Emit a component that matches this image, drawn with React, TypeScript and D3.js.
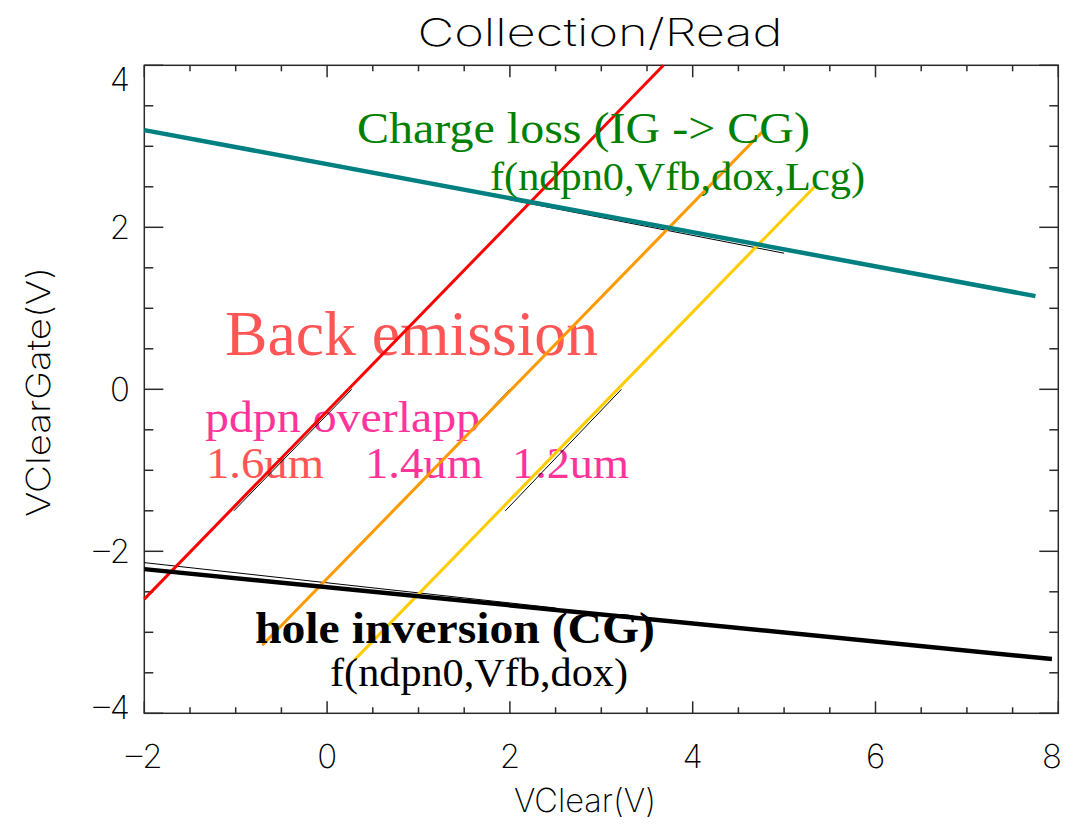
import React from "react";
import * as d3 from "d3";

// ---- data ----
const xTicks = [-2, 0, 2, 4, 6, 8];
const yTicks = [-4, -2, 0, 2, 4];

// straight lines: [x, y] end points
const chargeLoss: [number, number][] = [[-2, 3.2], [7.75, 1.15]];
const chargeLossFit: [number, number][] = [[2.0, 2.34], [5.0, 1.68]];
const holeInv: [number, number][] = [[-2, -2.22], [7.93, -3.33]];
const holeInvFit: [number, number][] = [[-2, -2.14], [2.5, -2.70]];
const ov16: [number, number][] = [[-2, -2.59], [3.68, 4.0]];
const ov14: [number, number][] = [[-0.71, -3.16], [4.78, 3.2]];
const ov12: [number, number][] = [[0.3, -3.34], [5.35, 2.52]];
const ov16Fit: [number, number][] = [[0.27, 0], [-1.02, -1.5]];
const ov14Fit: [number, number][] = [[2.0, 0], [0.72, -1.51]];
const ov12Fit: [number, number][] = [[3.22, 0], [1.95, -1.5]];

const W = 1074, H = 828;
const L = 144.3, R = 1058.3, T = 65.3, B = 713.3;

export default function App() {
  const x = d3.scaleLinear().domain([-2, 8]).range([L, R]);
  const y = d3.scaleLinear().domain([-4, 4]).range([B, T]);
  const line = d3.line<[number, number]>().x(d => x(d[0])).y(d => y(d[1]));

  const xMinor = d3.range(-2, 8.001, 0.5);
  const yMinor = d3.range(-4, 4.001, 0.5);
  const axisCol = "#2a2a2a";
  const tickFont = "Inter, 'DejaVu Sans', sans-serif";
  const tw = 200;
  const serif = "'Liberation Serif', 'Times New Roman', serif";
  const fmt = (v: number) => (v < 0 ? "\u2013" + Math.abs(v) : String(v));

  return (
    <svg width={W} height={H} style={{ position: "absolute", left: 0, top: 0, background: "#fff" }}>
      {/* title */}
      <text x={600} y={46} textAnchor="middle" fontFamily={tickFont} fontWeight={tw} fontSize={38}
        textLength={365} lengthAdjust="spacingAndGlyphs" fill="#000">Collection/Read</text>

      {/* frame */}
      <rect x={L} y={T} width={R - L} height={B - T} fill="none" stroke={axisCol} strokeWidth={1.5} />

      {/* x ticks */}
      {xMinor.map((v, i) => {
        const major = Math.abs(v - Math.round(v / 2) * 2) < 1e-6;
        const len = major ? 12 : 6;
        return (
          <g key={"xt" + i}>
            <line x1={x(v)} x2={x(v)} y1={B} y2={B - len} stroke={axisCol} strokeWidth={1.5} />
            <line x1={x(v)} x2={x(v)} y1={T} y2={T + len} stroke={axisCol} strokeWidth={1.5} />
          </g>
        );
      })}
      {yMinor.map((v, i) => {
        const major = Math.abs(v - Math.round(v / 2) * 2) < 1e-6;
        const len = major ? 19 : 9;
        return (
          <g key={"yt" + i}>
            <line x1={L} x2={L + len} y1={y(v)} y2={y(v)} stroke={axisCol} strokeWidth={1.5} />
            <line x1={R} x2={R - len} y1={y(v)} y2={y(v)} stroke={axisCol} strokeWidth={1.5} />
          </g>
        );
      })}

      {/* tick labels */}
      {xTicks.map(v => (
        <text key={"xl" + v} x={Math.min(x(v), 1052)} y={768} textAnchor="middle" fontFamily={tickFont}
          fontWeight={tw} fontSize={33} fill="#000">{fmt(v)}</text>
      ))}
      {yTicks.map(v => (
        <text key={"yl" + v} x={130} y={Math.min(Math.max(y(v), 79), 707)} dy="0.36em" textAnchor="end"
          fontFamily={tickFont} fontWeight={tw} fontSize={33} fill="#000">{fmt(v)}</text>
      ))}

      {/* axis titles */}
      <text x={585} y={812} textAnchor="middle" fontFamily={tickFont} fontWeight={tw} fontSize={33}
        textLength={142} lengthAdjust="spacingAndGlyphs" fill="#000">VClear(V)</text>
      <text transform="translate(50,392) rotate(-90)" textAnchor="middle" fontFamily={tickFont}
        fontWeight={tw} fontSize={33} textLength={250} lengthAdjust="spacingAndGlyphs" fill="#000">VClearGate(V)</text>

      {/* pink annotations (below lines) */}
      <text x={225} y={355} fontFamily={serif} fontSize={63} fill="#ff5555"
        textLength={373} lengthAdjust="spacingAndGlyphs">Back emission</text>
      <text x={205} y={432} fontFamily={serif} fontSize={45} fill="#ff3399"
        textLength={275} lengthAdjust="spacingAndGlyphs">pdpn overlapp</text>
      <text x={206} y={478} fontFamily={serif} fontSize={45} fill="#ff5555"
        textLength={118} lengthAdjust="spacingAndGlyphs">1.6um</text>
      <text x={365} y={478} fontFamily={serif} fontSize={45} fill="#ff3399"
        textLength={118} lengthAdjust="spacingAndGlyphs">1.4um</text>
      <text x={512} y={478} fontFamily={serif} fontSize={45} fill="#ff3399"
        textLength={117} lengthAdjust="spacingAndGlyphs">1.2um</text>

      {/* thin fit lines */}
      {[chargeLossFit, holeInvFit, ov16Fit, ov14Fit, ov12Fit].map((d, i) => (
        <path key={"fit" + i} d={line(d) || ""} fill="none" stroke="#000" strokeWidth={1} />
      ))}

      {/* main lines */}
      <path d={line(ov16) || ""} fill="none" stroke="#ff0000" strokeWidth={3} />
      <path d={line(ov14) || ""} fill="none" stroke="#ff9900" strokeWidth={3} />
      <path d={line(ov12) || ""} fill="none" stroke="#ffcc00" strokeWidth={3} />
      <path d={line(chargeLoss) || ""} fill="none" stroke="#008080" strokeWidth={4.5} />
      <path d={line(holeInv) || ""} fill="none" stroke="#000" strokeWidth={4.5} />

      {/* green / black annotations */}
      <text x={357} y={143} fontFamily={serif} fontSize={45} fill="#008000"
        textLength={453} lengthAdjust="spacingAndGlyphs">Charge loss (IG -&gt; CG)</text>
      <text x={490} y={190} fontFamily={serif} fontSize={40} fill="#008000"
        textLength={375} lengthAdjust="spacingAndGlyphs">f(ndpn0,Vfb,dox,Lcg)</text>
      <text x={255} y={643} fontFamily={serif} fontSize={44} fontWeight="bold" fill="#000"
        textLength={400} lengthAdjust="spacingAndGlyphs">hole inversion (CG)</text>
      <text x={330} y={686} fontFamily={serif} fontSize={40} fill="#000"
        textLength={298} lengthAdjust="spacingAndGlyphs">f(ndpn0,Vfb,dox)</text>
    </svg>
  );
}
